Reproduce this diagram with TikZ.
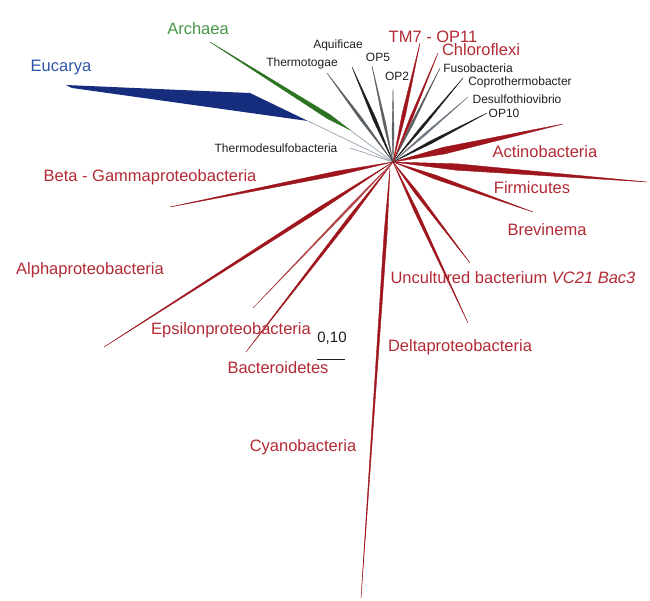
\documentclass[tikz,border=0pt]{standalone}
\usepackage{fontspec}
\setmainfont{Liberation Sans}
\usetikzlibrary{calc}
\definecolor{bred}{RGB}{158,22,28}
\definecolor{lred}{RGB}{178,42,52}
\definecolor{bblue}{RGB}{22,45,125}
\definecolor{lblue}{RGB}{45,85,165}
\definecolor{bgreen}{RGB}{45,115,35}
\definecolor{lgreen}{RGB}{70,150,70}
\definecolor{stemc}{RGB}{160,170,182}
\definecolor{dk}{RGB}{30,30,30}
\definecolor{md}{RGB}{90,95,100}
\tikzset{
  big/.style={font=\fontsize{16.5}{18}\selectfont, inner sep=0pt, text=lred},
  small/.style={font=\fontsize{12}{14}\selectfont, inner sep=0pt, text=dk},
  stemline/.style={draw=stemc, line width=0.8pt}
}
\newcommand\branch[5]{\filldraw[#1, line width=0.4pt, line join=round] (#2) -- ($(#2)!#4!(#3)!#5!90:(#3)$) -- (#3) -- ($(#2)!#4!(#3)!#5!-90:(#3)$) -- cycle;}
\begin{document}
\begin{tikzpicture}[x=1pt,y=-1pt]
\useasboundingbox (0,0) rectangle (650,600);
\coordinate (C) at (393,162);
\coordinate (Cb) at (390,168);
% Eucarya
\coordinate (eA) at (66,85);
\coordinate (eB) at (250,93);
\coordinate (eC) at (308,121);
\coordinate (eD) at (72,88);
\draw[stemline] (eC) -- (C);
\fill[bblue] (eA) -- (eB) -- (eC) -- (eD) -- cycle;
% Archaea
\coordinate (aB) at (350,130);
\coordinate (aT) at (210,42);
\draw[stemline] (aB) -- (C);
\branch{bgreen}{aB}{aT}{0.15}{2.4pt}
% Thermodesulfobacteria
\coordinate (tdT) at (350,148);
\draw[stemline] (tdT) -- (C);
% black group
\coordinate (ttT) at (327,73);
\coordinate (aqT) at (352,67);
\coordinate (op5T) at (372,66);
\coordinate (op2T) at (393,89);
\coordinate (fuT) at (440,68);
\coordinate (coT) at (463,78);
\coordinate (deT) at (468,97);
\coordinate (op10T) at (487,113);
\branch{md}{C}{ttT}{0.5}{1.3pt}
\branch{dk}{C}{aqT}{0.45}{1.6pt}
\branch{md}{C}{op5T}{0.4}{1.2pt}
\branch{md}{C}{op2T}{0.4}{1.0pt}
\branch{md}{C}{fuT}{0.4}{1.1pt}
\branch{dk}{C}{coT}{0.4}{1.2pt}
\branch{stemc!70!black}{C}{deT}{0.4}{1.0pt}
\branch{dk}{C}{op10T}{0.4}{1.4pt}
% red group, upper
\coordinate (tmT) at (420,43);
\coordinate (chT) at (438,53);
\branch{bred}{C}{tmT}{0.4}{1.8pt}
\branch{bred}{C}{chT}{0.4}{1.3pt}
% right
\coordinate (acT) at (563,124);
\coordinate (fiT) at (647,182);
\coordinate (brT) at (533,212);
\coordinate (unT) at (470,263);
\coordinate (dlT) at (468,323);
\branch{bred}{C}{acT}{0.3}{3.4pt}
\branch{bred}{C}{fiT}{0.25}{3.2pt}
\branch{bred}{C}{brT}{0.3}{2.0pt}
\branch{bred}{C}{unT}{0.3}{1.6pt}
\branch{bred}{C}{dlT}{0.3}{1.6pt}
% lower
\coordinate (cyT) at (361,598);
\coordinate (bcT) at (246,352);
\coordinate (epT) at (253,308);
\coordinate (alT) at (104,347);
\coordinate (bgT) at (170,207);
\branch{bred}{Cb}{cyT}{0.15}{1.5pt}
\branch{bred}{C}{bcT}{0.3}{1.6pt}
\branch{bred!80!white}{C}{epT}{0.3}{1.0pt}
\branch{bred}{C}{alT}{0.25}{1.8pt}
\branch{bred}{C}{bgT}{0.25}{2.2pt}
% labels
\node[big, text=lblue] (lEuc) at (61,68) {Eucarya};
\node[big, text=lgreen] (lArc) at (198,29) {Archaea};
\node[small] (lAq) at (338,45) {Aquificae};
\node[small] (lTt) at (302,63) {Thermotogae};
\node[small] (lOp5) at (378,57) {OP5};
\node[small] (lOp2) at (397,76) {OP2};
\node[big] (lTm) at (433,37) {TM7 - OP11};
\node[big] (lCh) at (481,50) {Chloroflexi};
\node[small] (lFu) at (478,68) {Fusobacteria};
\node[small] (lCo) at (520,82) {Coprothermobacter};
\node[small] (lDe) at (517,99) {Desulfothiovibrio};
\node[small] (lOp10) at (504,113) {OP10};
\node[small] (lTd) at (276,148) {Thermodesulfobacteria};
\node[big] (lAc) at (545,152) {Actinobacteria};
\node[big] (lFi) at (532,188) {Firmicutes};
\node[big] (lBr) at (547,230) {Brevinema};
\node[big] (lUn) at (513,278) {Uncultured bacterium \textit{VC21 Bac3}};
\node[big] (lDl) at (460,347) {Deltaproteobacteria};
\node[big] (lCy) at (303,447) {Cyanobacteria};
\node[big] (lBc) at (278,368) {Bacteroidetes};
\node[big] (lEp) at (231,330) {Epsilonproteobacteria};
\node[big] (lAl) at (90,270) {Alphaproteobacteria};
\node[big] (lBg) at (150,177) {Beta - Gammaproteobacteria};
\node[font=\fontsize{15}{16}\selectfont, inner sep=0pt, text=dk] (lSc) at (332,338) {0,10};
\coordinate (sA) at (317,359);
\coordinate (sB) at (345,359);
\draw[dk, line width=1pt] (sA) -- (sB);
\end{tikzpicture}
\end{document}
